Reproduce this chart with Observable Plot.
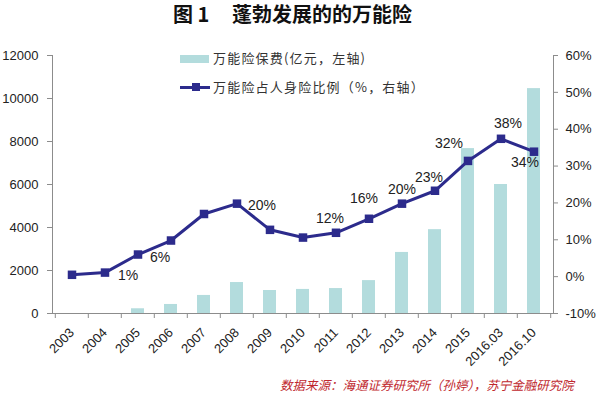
<!DOCTYPE html>
<html>
<head>
<meta charset="utf-8">
<script src="https://cdn.jsdelivr.net/npm/d3@7"></script>
<script src="https://cdn.jsdelivr.net/npm/@observablehq/plot@0.6"></script>
<style>
  html, body { margin: 0; padding: 0; background: #fff; }
  #wrap { position: relative; width: 600px; height: 398px; overflow: hidden; font-family: "Noto Sans CJK SC", sans-serif; }
  #title { position: relative; height: 30px; }
  #title span { position: absolute; top: 1px; font-size: 20px; font-weight: bold; color: #111; line-height: 26px; }
  #chart svg { display: block; }
  #footer { position: relative; height: 23px; }
  #footer span { position: absolute; left: 280px; top: 1px; font-size: 12.5px; font-style: italic; color: #c0272d; line-height: 18px; white-space: nowrap; }
  .leg { position: absolute; font-size: 13px; color: #333; letter-spacing: 1.2px; white-space: nowrap; line-height: 16px; }
</style>
</head>
<body>
<div id="wrap">
  <div id="title"><span style="left:173px">图 1</span><span style="left:232px">蓬勃发展的的万能险</span></div>
  <div id="chart"></div>
  <div id="footer"><span>数据来源：海通证券研究所（孙婷），苏宁金融研究院</span></div>
  <div id="legend"></div>
</div>
<script>
// ---- data ----
const categories = ["2003","2004","2005","2006","2007","2008","2009","2010","2011","2012","2013","2014","2015","2016.03","2016.10"];
const premium = [0, 0, 220, 420, 840, 1440, 1070, 1120, 1160, 1530, 2840, 3900, 7670, 6000, 10460]; // 亿元
const share = [0.5, 1.1, 6, 9.8, 17, 19.8, 12.7, 10.6, 11.9, 15.7, 19.8, 23.3, 31.4, 37.4, 33.9]; // %
const shareLabels = ["", "1%", "6%", "", "", "20%", "", "", "12%", "16%", "20%", "23%", "32%", "38%", "34%"];
const leftTicks = [0, 2000, 4000, 6000, 8000, 10000, 12000];
const rightTicks = [-10, 0, 10, 20, 30, 40, 50, 60];
const seriesNames = ["万能险保费(亿元，左轴)", "万能险占人身险比例（%，右轴）"];

// ---- layout / style ----
const W = 600, H = 345, mL = 52, mR = 47, mT = 25, mB = 62;
const step = (W - mL - mR) / categories.length;
const barColor = "#b3dcdd";
const lineColor = "#2c2b8c";
const axisColor = "#8c8c8c";
const textColor = "#222";
// label offsets (dx, dy, anchor) per category index
const labelOffsets = {1:[13,3,"start"],2:[12,3,"start"],5:[11,2,"start"],8:[-6,-14,"middle"],9:[-5,-20,"middle"],10:[0,-14,"middle"],11:[-6,-13,"middle"],12:[-19,-17,"middle"],13:[7,-15,"middle"],14:[-9,11,"middle"]};

const yMax = leftTicks[leftTicks.length - 1];
const pMin = rightTicks[0], pMax = rightTicks[rightTicks.length - 1];
const toLeft = p => (p - pMin) * yMax / (pMax - pMin);
const fromLeft = v => Math.round(v * (pMax - pMin) / yMax + pMin);

const data = categories.map((c, i) => ({cat: c, premium: premium[i], share: share[i], label: shareLabels[i], i}));

const labelMarks = Object.entries(labelOffsets).map(([i, [dx, dy, anchor]]) =>
  Plot.text(data.filter(d => d.i === +i), {
    x: "cat", y: d => toLeft(d.share), text: "label", dx, dy, textAnchor: anchor,
    fontSize: 14, fill: textColor, fontFamily: "Liberation Sans, Arial, sans-serif"
  })
);

const chart = Plot.plot({
  width: W, height: H,
  marginLeft: mL, marginRight: mR, marginTop: mT, marginBottom: mB,
  style: {fontFamily: "Liberation Sans, Arial, sans-serif", fontSize: "13px", color: textColor, background: "#fff"},
  x: {type: "band", domain: categories, paddingInner: 0.6, paddingOuter: 0.3, axis: null, label: null},
  y: {domain: [0, yMax], axis: null, label: null},
  marks: [
    Plot.barY(data, {x: "cat", y: "premium", fill: barColor}),
    Plot.frame({anchor: "left", stroke: axisColor}),
    Plot.frame({anchor: "right", stroke: axisColor}),
    Plot.frame({anchor: "bottom", stroke: axisColor}),
    Plot.axisY(leftTicks, {anchor: "left", label: null, tickSize: 5, tickPadding: 9, stroke: axisColor, fill: textColor, fontSize: 13, tickFormat: d => String(d)}),
    Plot.axisY(rightTicks.map(toLeft), {anchor: "right", label: null, tickSize: 4, tickPadding: 8, stroke: axisColor, fill: textColor, fontSize: 13, tickFormat: v => fromLeft(v) + "%"}),
    Plot.axisX({label: null, tickSize: 5, fill: "none", stroke: axisColor, dx: -step / 2}),
    Plot.axisX(categories.slice(-1), {label: null, tickSize: 5, fill: "none", stroke: axisColor, dx: step / 2}),
    Plot.axisX({label: null, tickSize: 0, tickPadding: 17, tickRotate: -45, fill: textColor, fontSize: 13}),
    Plot.line(data, {x: "cat", y: d => toLeft(d.share), stroke: lineColor, strokeWidth: 3}),
    Plot.dot(data, {x: "cat", y: d => toLeft(d.share), symbol: "square", r: 4.8, fill: lineColor, stroke: "none"}),
    ...labelMarks
  ]
});
document.getElementById("chart").appendChild(chart);

// legend (HTML overlay)
const legend = document.getElementById("legend");
legend.innerHTML = `
  <div style="position:absolute;left:180px;top:55px;width:29px;height:8px;background:${barColor}"></div>
  <div class="leg" style="left:213px;top:50px">${seriesNames[0]}</div>
  <div style="position:absolute;left:180px;top:85.5px;width:30px;height:3px;background:${lineColor}"></div>
  <div style="position:absolute;left:192px;top:83px;width:8px;height:8px;background:${lineColor}"></div>
  <div class="leg" style="left:213px;top:79px">${seriesNames[1]}</div>`;
</script>
</body>
</html>
